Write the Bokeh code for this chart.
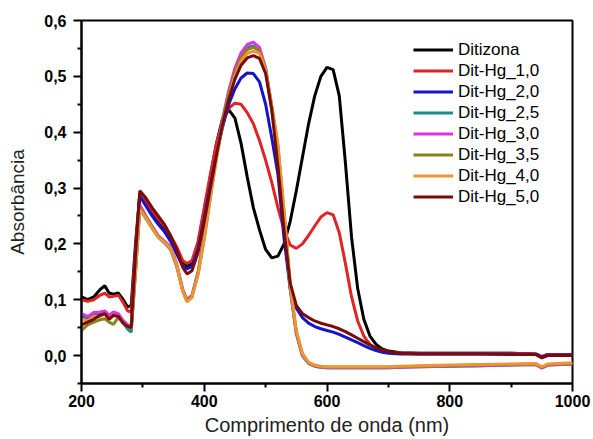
from bokeh.plotting import figure
from bokeh.models import FixedTicker, CustomJSTickFormatter, Legend, LegendItem, Range1d
from bokeh.embed import file_html
from bokeh.resources import INLINE

wavelength = [200, 210, 220, 230, 238, 245, 252, 260, 268, 275, 281, 288, 295, 305, 315, 325, 335, 345, 355, 365,
              372, 380, 390, 400, 410, 420, 430, 440, 450, 460, 470, 480, 490, 500, 510, 520, 530, 540, 550, 560,
              570, 580, 590, 600, 610, 620, 630, 640, 650, 660, 670, 680, 690, 700, 720, 750, 800, 850, 900, 940,
              950, 960, 1000]

ditizona = [0.105, 0.100, 0.105, 0.118, 0.125, 0.112, 0.110, 0.112, 0.100, 0.087, 0.090, 0.200, 0.290, 0.275, 0.258, 0.240, 0.228, 0.210, 0.190, 0.168,
            0.160, 0.165, 0.200, 0.260, 0.320, 0.380, 0.425, 0.440, 0.425, 0.380, 0.320, 0.265, 0.225, 0.190, 0.175, 0.178, 0.200, 0.240, 0.295, 0.355,
            0.415, 0.465, 0.500, 0.516, 0.512, 0.465, 0.345, 0.212, 0.120, 0.065, 0.035, 0.020, 0.012, 0.008, 0.005, 0.004, 0.004, 0.004, 0.004, 0.003,
            -0.002, 0.002, 0.002]

hg_1_0 = [0.100, 0.097, 0.100, 0.108, 0.112, 0.105, 0.106, 0.108, 0.095, 0.080, 0.078, 0.190, 0.288, 0.275, 0.260, 0.245, 0.232, 0.215, 0.195, 0.170,
          0.165, 0.170, 0.205, 0.265, 0.325, 0.380, 0.420, 0.443, 0.452, 0.450, 0.435, 0.415, 0.385, 0.350, 0.310, 0.265, 0.225, 0.198, 0.192, 0.200,
          0.215, 0.232, 0.248, 0.256, 0.252, 0.220, 0.165, 0.105, 0.062, 0.035, 0.020, 0.012, 0.008, 0.006, 0.005, 0.004, 0.004, 0.004, 0.004, 0.003,
          -0.002, 0.002, 0.002]

hg_2_0 = [0.070, 0.068, 0.073, 0.075, 0.078, 0.072, 0.075, 0.073, 0.062, 0.055, 0.052, 0.170, 0.285, 0.268, 0.250, 0.235, 0.222, 0.205, 0.182, 0.160,
          0.155, 0.160, 0.190, 0.245, 0.305, 0.360, 0.410, 0.450, 0.478, 0.497, 0.506, 0.505, 0.490, 0.450, 0.390, 0.325, 0.210, 0.120, 0.085, 0.068,
          0.058, 0.052, 0.048, 0.045, 0.042, 0.038, 0.033, 0.028, 0.023, 0.018, 0.013, 0.009, 0.006, 0.004, 0.003, 0.003, 0.003, 0.003, 0.003, 0.002,
          -0.003, 0.001, 0.001]

hg_2_5 = [0.072, 0.068, 0.075, 0.076, 0.078, 0.070, 0.076, 0.073, 0.058, 0.048, 0.042, 0.150, 0.262, 0.245, 0.228, 0.212, 0.202, 0.190, 0.160, 0.116,
          0.098, 0.106, 0.148, 0.212, 0.286, 0.356, 0.420, 0.470, 0.510, 0.537, 0.552, 0.554, 0.546, 0.512, 0.440, 0.370, 0.250, 0.120, 0.040, 0.000,
          -0.014, -0.019, -0.021, -0.022, -0.022, -0.022, -0.022, -0.022, -0.022, -0.022, -0.022, -0.022, -0.022, -0.022, -0.021, -0.020, -0.019, -0.018, -0.017, -0.016,
          -0.022, -0.017, -0.015]

hg_3_0 = [0.075, 0.070, 0.077, 0.078, 0.080, 0.072, 0.078, 0.075, 0.062, 0.055, 0.050, 0.160, 0.270, 0.250, 0.232, 0.215, 0.205, 0.195, 0.165, 0.118,
          0.100, 0.108, 0.150, 0.215, 0.290, 0.360, 0.425, 0.475, 0.515, 0.542, 0.557, 0.561, 0.552, 0.515, 0.445, 0.370, 0.250, 0.120, 0.040, 0.000,
          -0.014, -0.019, -0.021, -0.022, -0.022, -0.022, -0.022, -0.022, -0.022, -0.022, -0.022, -0.022, -0.022, -0.022, -0.021, -0.020, -0.019, -0.018, -0.017, -0.016,
          -0.022, -0.017, -0.015]

hg_3_5 = [0.045, 0.055, 0.060, 0.064, 0.066, 0.060, 0.056, 0.068, 0.058, 0.052, 0.048, 0.150, 0.265, 0.248, 0.230, 0.213, 0.203, 0.192, 0.162, 0.116,
          0.098, 0.106, 0.148, 0.212, 0.287, 0.357, 0.421, 0.470, 0.508, 0.534, 0.548, 0.552, 0.546, 0.514, 0.446, 0.375, 0.255, 0.125, 0.042, 0.002,
          -0.013, -0.018, -0.020, -0.021, -0.021, -0.021, -0.021, -0.021, -0.021, -0.021, -0.021, -0.021, -0.021, -0.021, -0.020, -0.019, -0.018, -0.017, -0.016, -0.015,
          -0.021, -0.016, -0.014]

hg_4_0 = [0.065, 0.062, 0.070, 0.070, 0.074, 0.066, 0.072, 0.070, 0.058, 0.052, 0.050, 0.150, 0.262, 0.246, 0.228, 0.212, 0.203, 0.192, 0.163, 0.115,
          0.096, 0.104, 0.145, 0.208, 0.282, 0.352, 0.415, 0.463, 0.501, 0.527, 0.541, 0.545, 0.541, 0.512, 0.448, 0.380, 0.262, 0.130, 0.045, 0.004,
          -0.012, -0.017, -0.019, -0.020, -0.020, -0.020, -0.020, -0.020, -0.020, -0.020, -0.020, -0.020, -0.020, -0.020, -0.019, -0.018, -0.017, -0.016, -0.015, -0.014,
          -0.020, -0.015, -0.013]

hg_5_0 = [0.055, 0.060, 0.065, 0.072, 0.075, 0.065, 0.072, 0.070, 0.058, 0.052, 0.050, 0.180, 0.295, 0.282, 0.265, 0.250, 0.235, 0.215, 0.190, 0.158,
          0.146, 0.152, 0.185, 0.240, 0.300, 0.360, 0.415, 0.460, 0.495, 0.520, 0.533, 0.537, 0.532, 0.505, 0.440, 0.340, 0.225, 0.130, 0.090, 0.075,
          0.068, 0.062, 0.058, 0.055, 0.052, 0.048, 0.043, 0.037, 0.031, 0.025, 0.019, 0.014, 0.010, 0.007, 0.004, 0.003, 0.003, 0.003, 0.002, 0.002,
          -0.004, 0.000, 0.000]

series_names = ["Ditizona", "Dit-Hg_1,0", "Dit-Hg_2,0", "Dit-Hg_2,5", "Dit-Hg_3,0", "Dit-Hg_3,5", "Dit-Hg_4,0", "Dit-Hg_5,0"]
series_values = [ditizona, hg_1_0, hg_2_0, hg_2_5, hg_3_0, hg_3_5, hg_4_0, hg_5_0]
colors = ["#000000", "#e02424", "#1414c8", "#1a8c8c", "#e033e0", "#858520", "#f09433", "#780c0c"]

x_major = [200, 400, 600, 800, 1000]
x_minor = [300, 500, 700, 900]
y_major = [0.0, 0.1, 0.2, 0.3, 0.4, 0.5, 0.6]
y_minor = [-0.05, 0.05, 0.15, 0.25, 0.35, 0.45, 0.55]

FONT = "Liberation Sans"

p = figure(width=593, height=439, output_backend="svg", toolbar_location=None,
           x_range=Range1d(200, 1000), y_range=Range1d(-0.05, 0.6),
           min_border_left=81, min_border_right=21, min_border_top=20, min_border_bottom=56)
p.background_fill_color = "white"
p.border_fill_color = "white"
p.xgrid.visible = False
p.ygrid.visible = False
p.outline_line_color = "black"
p.outline_line_width = 2

items = []
for name, vals, col in zip(series_names, series_values, colors):
    r = p.line(wavelength, vals, line_color=col, line_width=3)
    items.append(LegendItem(label=name, renderers=[r]))

for ax in (p.xaxis[0], p.yaxis[0]):
    ax.axis_line_width = 2
    ax.axis_line_color = "black"
    ax.major_tick_line_width = 2
    ax.minor_tick_line_width = 2
    ax.major_tick_out = 8
    ax.major_tick_in = 0
    ax.minor_tick_out = 4
    ax.minor_tick_in = 0
    ax.major_label_text_font = FONT
    ax.major_label_text_font_style = "bold"
    ax.major_label_text_font_size = "16px"
    ax.major_label_text_color = "black"
    ax.axis_label_text_font = FONT
    ax.axis_label_text_font_style = "normal"
    ax.axis_label_text_color = "#222222"

p.xaxis.ticker = FixedTicker(ticks=x_major, minor_ticks=x_minor)
p.yaxis.ticker = FixedTicker(ticks=y_major, minor_ticks=y_minor)
p.yaxis.formatter = CustomJSTickFormatter(code="return tick.toFixed(1).replace('.', ',');")
p.xaxis.axis_label = "Comprimento de onda (nm)"
p.yaxis.axis_label = "Absorbância"
p.xaxis.axis_label_text_font_size = "20px"
p.yaxis.axis_label_text_font_size = "19px"
p.xaxis.major_label_standoff = 3
p.yaxis.major_label_standoff = 7
p.xaxis.axis_label_standoff = 4
p.yaxis.axis_label_standoff = 13

legend = Legend(items=items, location=(322, 166))
legend.label_text_font = FONT
legend.label_text_font_size = "17px"
legend.label_text_color = "black"
legend.glyph_width = 40
legend.glyph_height = 21
legend.label_height = 21
legend.spacing = 0
legend.padding = 10
legend.margin = 0
legend.label_standoff = 5
legend.border_line_alpha = 0
legend.background_fill_alpha = 0
p.add_layout(legend)

open("out.html", "w").write(file_html(p, INLINE))
